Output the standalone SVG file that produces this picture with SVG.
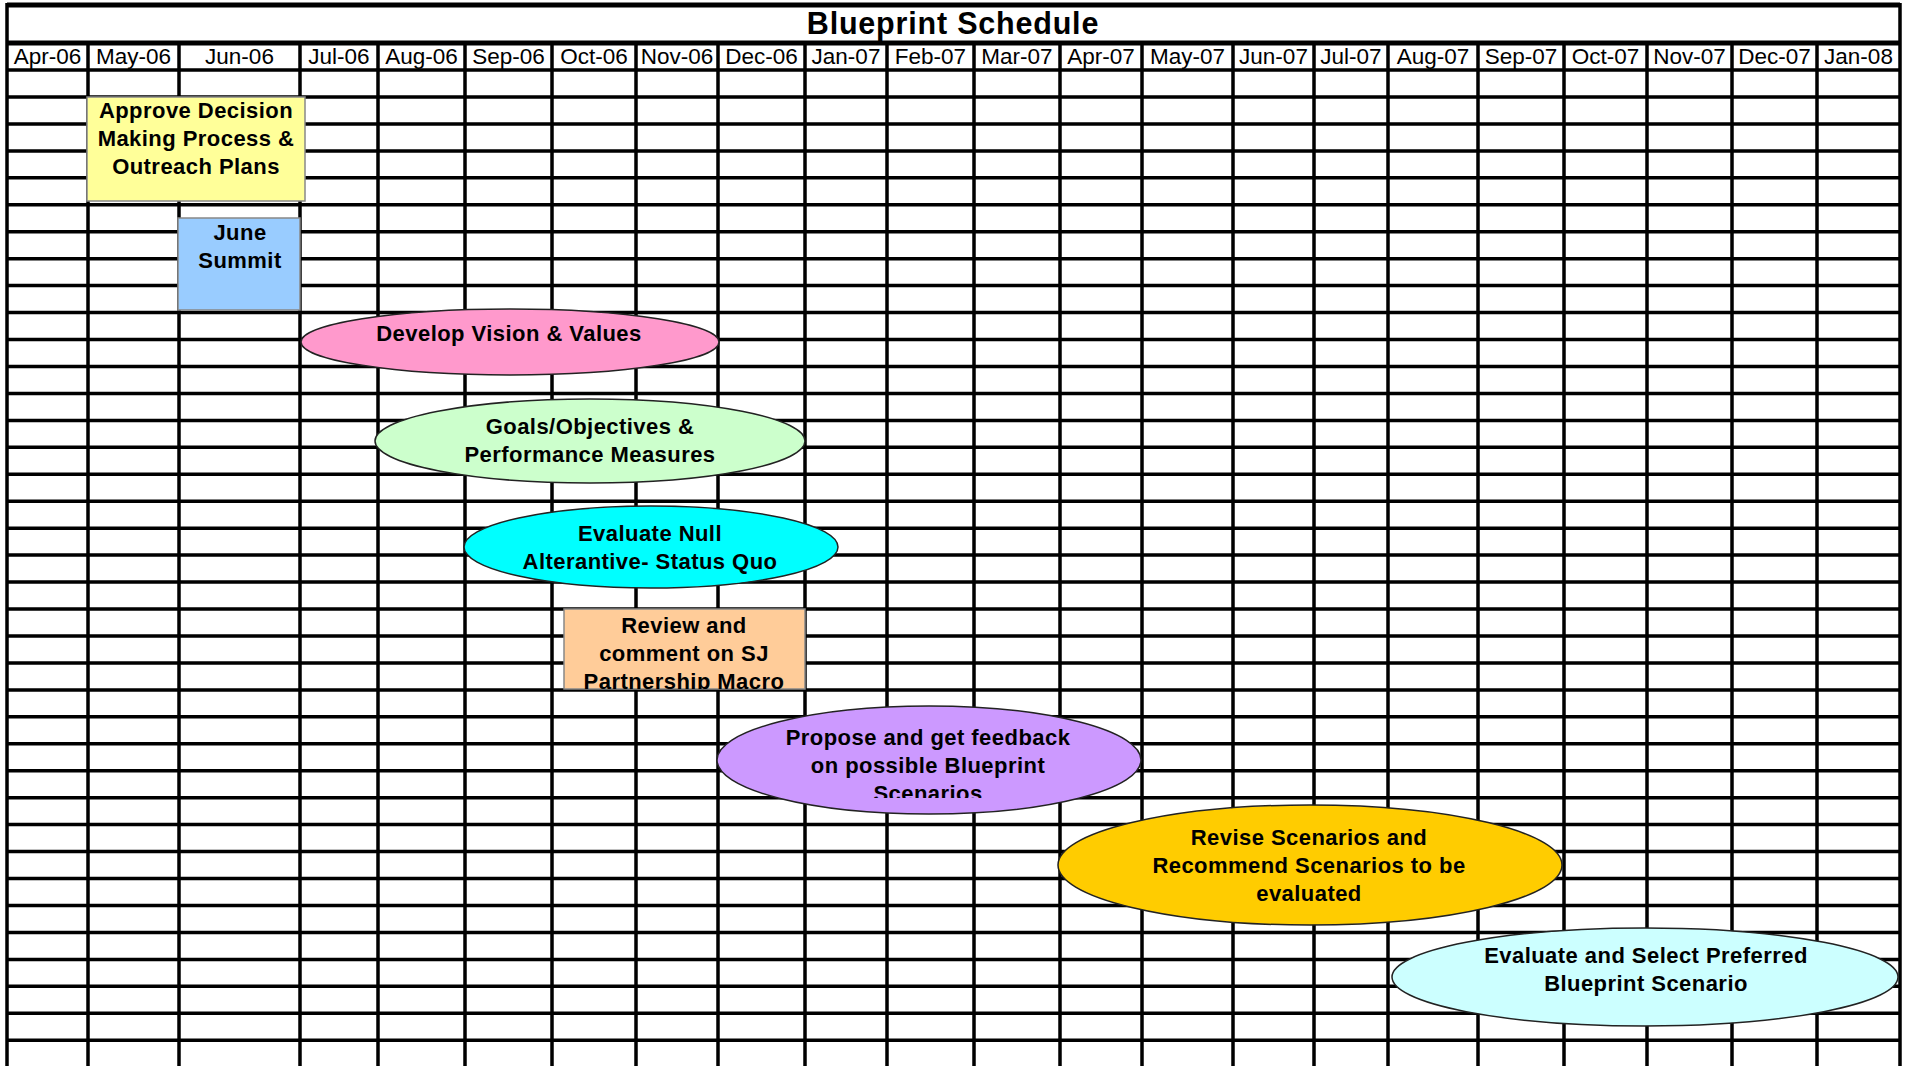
<svg xmlns="http://www.w3.org/2000/svg" width="1913" height="1066" viewBox="0 0 1913 1066">
<defs>
<style>
.grid{stroke:#000;stroke-width:3.5;fill:none}
.hdr{font-family:"Liberation Sans",Arial,sans-serif;font-size:22.5px;fill:#000;text-anchor:middle}
.lbl{font-family:"Liberation Sans",Arial,sans-serif;font-size:22px;font-weight:bold;fill:#000;text-anchor:middle;letter-spacing:0.45px}
.title{font-family:"Liberation Sans",Arial,sans-serif;font-size:30.5px;font-weight:bold;fill:#000;text-anchor:middle;letter-spacing:0.8px}
.shape{stroke:#222;stroke-width:1.5}
.box{stroke:#888;stroke-width:1.5}
</style>
<clipPath id="clipOrange"><rect x="564" y="609" width="241" height="80"/></clipPath>
<clipPath id="clipPurple"><rect x="700" y="700" width="460" height="98"/></clipPath>
</defs>
<rect x="0" y="0" width="1913" height="1066" fill="#fff"/>
<g id="grid">
<path class="grid" d="M7,5H1900 M7,43H1900 M7,70H1900 M7,97H1900 M7,123.9H1900 M7,150.9H1900 M7,177.8H1900 M7,204.8H1900 M7,231.7H1900 M7,258.7H1900 M7,285.6H1900 M7,312.6H1900 M7,339.5H1900 M7,366.5H1900 M7,393.4H1900 M7,420.4H1900 M7,447.3H1900 M7,474.3H1900 M7,501.2H1900 M7,528.2H1900 M7,555.1H1900 M7,582.1H1900 M7,609H1900 M7,636H1900 M7,662.9H1900 M7,689.9H1900 M7,716.8H1900 M7,743.8H1900 M7,770.7H1900 M7,797.7H1900 M7,824.6H1900 M7,851.6H1900 M7,878.5H1900 M7,905.5H1900 M7,932.4H1900 M7,959.4H1900 M7,986.3H1900 M7,1013.3H1900 M7,1040.2H1900"/>
<path class="grid" d="M7,3V1066 M1900,3V1066 M88,43V1066 M179,43V1066 M300,43V1066 M378,43V1066 M465,43V1066 M552,43V1066 M636,43V1066 M718,43V1066 M805,43V1066 M887,43V1066 M974,43V1066 M1060,43V1066 M1142,43V1066 M1233,43V1066 M1314,43V1066 M1388,43V1066 M1478,43V1066 M1564,43V1066 M1647,43V1066 M1732,43V1066 M1817,43V1066"/>
<path d="M7,5H1900 M7,43H1900" stroke="#000" stroke-width="5" fill="none"/>
</g>
<g id="title"><text class="title" x="953" y="34">Blueprint Schedule</text></g>
<g id="months">
<text class="hdr" x="47.5" y="64">Apr-06</text>
<text class="hdr" x="133.5" y="64">May-06</text>
<text class="hdr" x="239.5" y="64">Jun-06</text>
<text class="hdr" x="339" y="64">Jul-06</text>
<text class="hdr" x="421.5" y="64">Aug-06</text>
<text class="hdr" x="508.5" y="64">Sep-06</text>
<text class="hdr" x="594" y="64">Oct-06</text>
<text class="hdr" x="677" y="64">Nov-06</text>
<text class="hdr" x="761.5" y="64">Dec-06</text>
<text class="hdr" x="846" y="64">Jan-07</text>
<text class="hdr" x="930.5" y="64">Feb-07</text>
<text class="hdr" x="1017" y="64">Mar-07</text>
<text class="hdr" x="1101" y="64">Apr-07</text>
<text class="hdr" x="1187.5" y="64">May-07</text>
<text class="hdr" x="1273.5" y="64">Jun-07</text>
<text class="hdr" x="1351" y="64">Jul-07</text>
<text class="hdr" x="1433" y="64">Aug-07</text>
<text class="hdr" x="1521" y="64">Sep-07</text>
<text class="hdr" x="1605.5" y="64">Oct-07</text>
<text class="hdr" x="1689.5" y="64">Nov-07</text>
<text class="hdr" x="1774.5" y="64">Dec-07</text>
<text class="hdr" x="1858.5" y="64">Jan-08</text>
</g>
<g id="approve">
<rect class="box" x="87" y="97" width="218" height="104" fill="#FFFF99"/>
<text class="lbl" x="196" y="118">Approve Decision</text>
<text class="lbl" x="196" y="146">Making Process &amp;</text>
<text class="lbl" x="196" y="174">Outreach Plans</text>
</g>
<g id="june-summit">
<rect class="box" x="178" y="218" width="122" height="92" fill="#99CCFF"/>
<text class="lbl" x="240" y="240">June</text>
<text class="lbl" x="240" y="268">Summit</text>
</g>
<g id="vision">
<ellipse class="shape" cx="510" cy="342" rx="209" ry="33" fill="#FF99CC"/>
<text class="lbl" x="509" y="341">Develop Vision &amp; Values</text>
</g>
<g id="goals">
<ellipse class="shape" cx="590" cy="441" rx="215" ry="42" fill="#CCFFCC"/>
<text class="lbl" x="590" y="434">Goals/Objectives &amp;</text>
<text class="lbl" x="590" y="462">Performance Measures</text>
</g>
<g id="null-alt">
<ellipse class="shape" cx="651" cy="547" rx="187" ry="41" fill="#00FFFF"/>
<text class="lbl" x="650" y="541">Evaluate Null</text>
<text class="lbl" x="650" y="569">Alterantive- Status Quo</text>
</g>
<g id="review">
<rect class="box" x="564" y="609" width="241" height="80" fill="#FFCC99"/>
<g clip-path="url(#clipOrange)">
<text class="lbl" x="684" y="633">Review and</text>
<text class="lbl" x="684" y="661">comment on SJ</text>
<text class="lbl" x="684" y="689">Partnership Macro</text>
</g>
</g>
<g id="propose">
<ellipse class="shape" cx="929" cy="760" rx="212" ry="54" fill="#CC99FF"/>
<g clip-path="url(#clipPurple)">
<text class="lbl" x="928" y="745">Propose and get feedback</text>
<text class="lbl" x="928" y="773">on possible Blueprint</text>
<text class="lbl" x="928" y="801">Scenarios</text>
</g>
</g>
<g id="revise">
<ellipse class="shape" cx="1310" cy="865" rx="252" ry="60" fill="#FFCC00"/>
<text class="lbl" x="1309" y="845">Revise Scenarios and</text>
<text class="lbl" x="1309" y="873">Recommend Scenarios to be</text>
<text class="lbl" x="1309" y="901">evaluated</text>
</g>
<g id="select">
<ellipse class="shape" cx="1645" cy="977" rx="253" ry="49" fill="#CCFFFF"/>
<text class="lbl" x="1646" y="963">Evaluate and Select Preferred</text>
<text class="lbl" x="1646" y="991">Blueprint Scenario</text>
</g>
</svg>
